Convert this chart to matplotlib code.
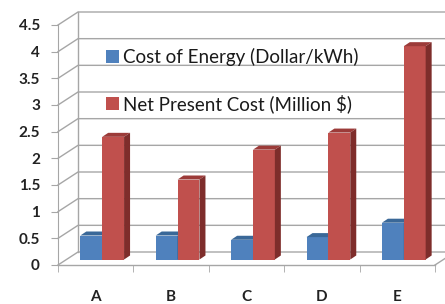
import numpy as np
import matplotlib
matplotlib.use("Agg")
import matplotlib.pyplot as plt
from matplotlib.patches import Polygon, Patch

categories = ["A", "B", "C", "D", "E"]
cost_energy = [0.45, 0.45, 0.37, 0.42, 0.69]
npc = [2.30, 1.50, 2.06, 2.38, 4.00]
series_names = ["Cost of Energy (Dollar/kWh)", "Net Present Cost (Million $)"]
yticks = [0, 0.5, 1, 1.5, 2, 2.5, 3, 3.5, 4, 4.5]

blue = ["#4F81BD", "#3A6898", "#2F5680"]   # front, top, side
red = ["#C0504D", "#9C3B39", "#7E2D2B"]
grid_c = "#A6A6A6"

fig = plt.figure(figsize=(4.45, 3.04), dpi=100)
# front plane of the 3d box, in pixels: x 58..435, y 265..25
ax = fig.add_axes([58 / 445, 39 / 304, 377 / 445, 240 / 304])
ax.set_xlim(0, 5)
ax.set_ylim(0, 4.5)

sx = 5 / 377.0
sy = 4.5 / 240.0
DX, DY = 20 * sx, 13 * sy      # full depth of the box
FX, FY = 8 * sx, 5.5 * sy      # bar front face depth
TX, TY = 6 * sx, 4 * sy        # bar thickness

# back wall gridlines with the diagonal on the left side wall
for v in yticks:
    ax.plot([0, DX, 5 + DX + 0.5], [v, v + DY, v + DY], color=grid_c, lw=1,
            clip_on=False, zorder=1)
ax.plot([DX, DX], [DY, 4.5 + DY], color=grid_c, lw=1, clip_on=False, zorder=1)
# floor front edge
ax.plot([0, 5], [0, 0], color=grid_c, lw=1, clip_on=False, zorder=1)
ax.plot([5, 5 + DX], [0, DY], color=grid_c, lw=1, clip_on=False, zorder=1)

# bars
w = 0.29
x0 = 0.19
for i in range(len(categories)):
    for j, (vals, cols) in enumerate([(cost_energy, blue), (npc, red)]):
        left = i + x0 + j * w + FX
        bot = FY
        top = FY + vals[i]
        ax.add_patch(Polygon([[left, bot], [left + w, bot], [left + w, top], [left, top]],
                             closed=True, fc=cols[0], ec="none", zorder=3 + j, clip_on=False))
        ax.add_patch(Polygon([[left, top], [left + w, top], [left + w + TX, top + TY],
                              [left + TX, top + TY]],
                             closed=True, fc=cols[1], ec="none", zorder=3 + j, clip_on=False))
        ax.add_patch(Polygon([[left + w, bot], [left + w + TX, bot + TY],
                              [left + w + TX, top + TY], [left + w, top]],
                             closed=True, fc=cols[2], ec="none", zorder=3 + j, clip_on=False))

for s in ["top", "right", "bottom"]:
    ax.spines[s].set_visible(False)
ax.spines["left"].set_color(grid_c)

ax.set_yticks(yticks)
ax.set_yticklabels(["0", "0.5", "1", "1.5", "2", "2.5", "3", "3.5", "4", "4.5"],
                   fontfamily="Lato", fontweight="bold", fontsize=11, color="#222222")
ax.tick_params(axis="y", direction="out", length=5, color=grid_c, pad=8)

ax.set_xticks(np.arange(5) + 0.5)
ax.set_xticklabels(categories, fontfamily="Lato", fontweight="bold", fontsize=11,
                   color="#222222")
ax.set_xticks(np.arange(6), minor=True)
ax.tick_params(axis="x", which="major", length=0, pad=18)
ax.tick_params(axis="x", which="minor", direction="out", length=5, color=grid_c)

handles = [Patch(fc=blue[0], ec="none"), Patch(fc=red[0], ec="none")]
leg = fig.legend(handles, series_names, loc="upper left", bbox_to_anchor=(106 / 445, 1 - 48 / 304),
                 frameon=False, prop={"family": "Lato", "size": 13.5},
                 borderpad=0, borderaxespad=0,
                 handlelength=0.7, handleheight=0.7, handletextpad=0.2, labelspacing=1.5)
for t in leg.get_texts():
    t.set_color("#1a1a1a")

fig.savefig("out.png", dpi=100)
